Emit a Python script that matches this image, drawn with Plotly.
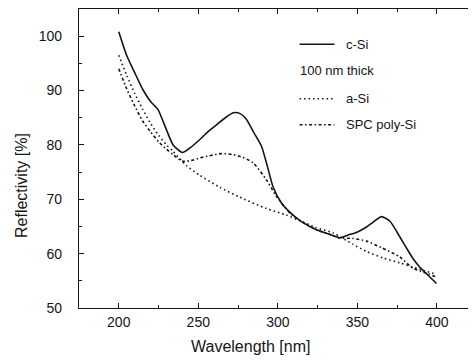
import plotly.graph_objects as go

# ---- data ----
csi_x = [200, 204.8, 210, 215.3, 220, 224.7, 229, 234.2, 240, 245, 251, 256, 261.5, 267, 272, 276, 280, 284.5, 289.7, 293.5, 297, 302.3, 308, 314.9, 324.3, 332, 339, 344, 349.5, 355.8, 360, 365.2, 370.4, 376.7, 381, 385, 389, 393.5, 399.8]
csi_y = [100.8, 96.6, 93.3, 90.1, 88.0, 86.5, 83.5, 80.0, 78.6, 79.5, 81.0, 82.4, 83.7, 85.0, 85.9, 85.8, 84.8, 82.5, 79.8, 76.0, 72.3, 69.3, 67.5, 65.9, 64.4, 63.6, 62.9, 63.4, 63.9, 64.9, 65.8, 66.8, 66.0, 63.1, 61.0, 59.1, 57.6, 56.3, 54.5]

asi_x = [200, 205, 210, 215, 219.5, 225, 230, 234.2, 242.5, 251, 263.5, 276, 292.8, 305.3, 315, 324, 334.8, 347.4, 355.8, 366.2, 376.7, 389.3, 399.8]
asi_y = [96.5, 92.8, 89.5, 86.6, 84.2, 81.8, 80.0, 78.8, 76.2, 74.4, 72.2, 70.4, 68.3, 67.1, 65.9, 64.8, 63.8, 61.7, 60.4, 59.2, 58.3, 57.1, 56.2]

spc_x = [200, 205, 210, 215, 220, 225, 230, 234.2, 240, 245, 251, 257, 264.6, 272, 278, 284.5, 292.8, 299, 307.5, 315, 324.3, 332, 339, 347, 355.8, 365.2, 376.7, 385, 391.5, 399.8]
spc_y = [94.0, 90.3, 87.2, 84.4, 82.4, 80.6, 79.2, 78.2, 77.0, 77.1, 77.6, 78.0, 78.4, 78.2, 77.7, 76.7, 73.6, 70.6, 67.5, 65.9, 64.4, 63.6, 62.9, 62.8, 62.3, 61.1, 59.4, 57.3, 56.6, 55.7]

x_ticks = [200, 250, 300, 350, 400]
y_ticks = [50, 60, 70, 80, 90, 100]

ink = "#151515"
font = "Liberation Sans, Arial, sans-serif"
fig = go.Figure()
fig.add_trace(go.Scatter(x=csi_x, y=csi_y, mode="lines", name="c-Si",
                         line=dict(color=ink, width=1.6, shape="spline", smoothing=0.6)))
fig.add_trace(go.Scatter(x=asi_x, y=asi_y, mode="lines", name="a-Si",
                         line=dict(color=ink, width=1.6, dash="1.5px,3px", shape="spline", smoothing=0.6)))
fig.add_trace(go.Scatter(x=spc_x, y=spc_y, mode="lines", name="SPC poly-Si",
                         line=dict(color=ink, width=1.6, dash="3px,2.5px,1.5px,2.5px", shape="spline", smoothing=0.6)))

axis_common = dict(showline=True, linecolor=ink, linewidth=1.2, mirror="ticks",
                   ticks="inside", ticklen=5, tickwidth=1.2, tickcolor=ink,
                   showgrid=False, zeroline=False,
                   tickfont=dict(family=font, size=14, color=ink))

fig.update_xaxes(range=[175, 424], tickvals=x_ticks, ticktext=[str(v) for v in x_ticks],
                 minor=dict(ticks="inside", ticklen=3, tickcolor=ink, dtick=25, tick0=200),
                 ticklabelstandoff=1, **axis_common)
fig.update_yaxes(range=[50, 105], tickvals=y_ticks, ticktext=[str(v) for v in y_ticks],
                 minor=dict(ticks="inside", ticklen=3, tickcolor=ink, dtick=5, tick0=50),
                 ticklabelstandoff=13, **axis_common)

ann = [
    dict(text="Reflectivity [%]", xref="paper", yref="paper", x=-0.145, y=0.41,
         textangle=-90, showarrow=False, font=dict(family=font, size=16, color=ink),
         xanchor="center", yanchor="middle"),
    dict(text="Wavelength [nm]", xref="paper", yref="paper", x=0.434, y=-0.13,
         showarrow=False, font=dict(family=font, size=16, color=ink),
         xanchor="center", yanchor="middle"),
]
# manual legend
legend_names = ["c-Si", "a-Si", "SPC poly-Si"]
legend_dash = ["solid", "1.5px,3px", "3px,2.5px,1.5px,2.5px"]
legend_y = [0.882, 0.70, 0.613]
shapes = []
for name, dash, yy in zip(legend_names, legend_dash, legend_y):
    shapes.append(dict(type="line", xref="paper", yref="paper", x0=0.557, x1=0.645, y0=yy, y1=yy,
                       line=dict(color=ink, width=1.4, dash=dash)))
    ann.append(dict(text=name, xref="paper", yref="paper", x=0.67, y=yy, xanchor="left",
                    yanchor="middle", showarrow=False, font=dict(family=font, size=13, color=ink)))
ann.append(dict(text="100 nm thick", xref="paper", yref="paper", x=0.553, y=0.793, xanchor="left",
                yanchor="middle", showarrow=False, font=dict(family=font, size=13, color=ink)))

fig.update_layout(width=468, height=352, margin=dict(l=71, r=1, t=1, b=52),
                  paper_bgcolor="white", plot_bgcolor="white", showlegend=False,
                  annotations=ann, shapes=shapes)

fig.write_html("out.html")
